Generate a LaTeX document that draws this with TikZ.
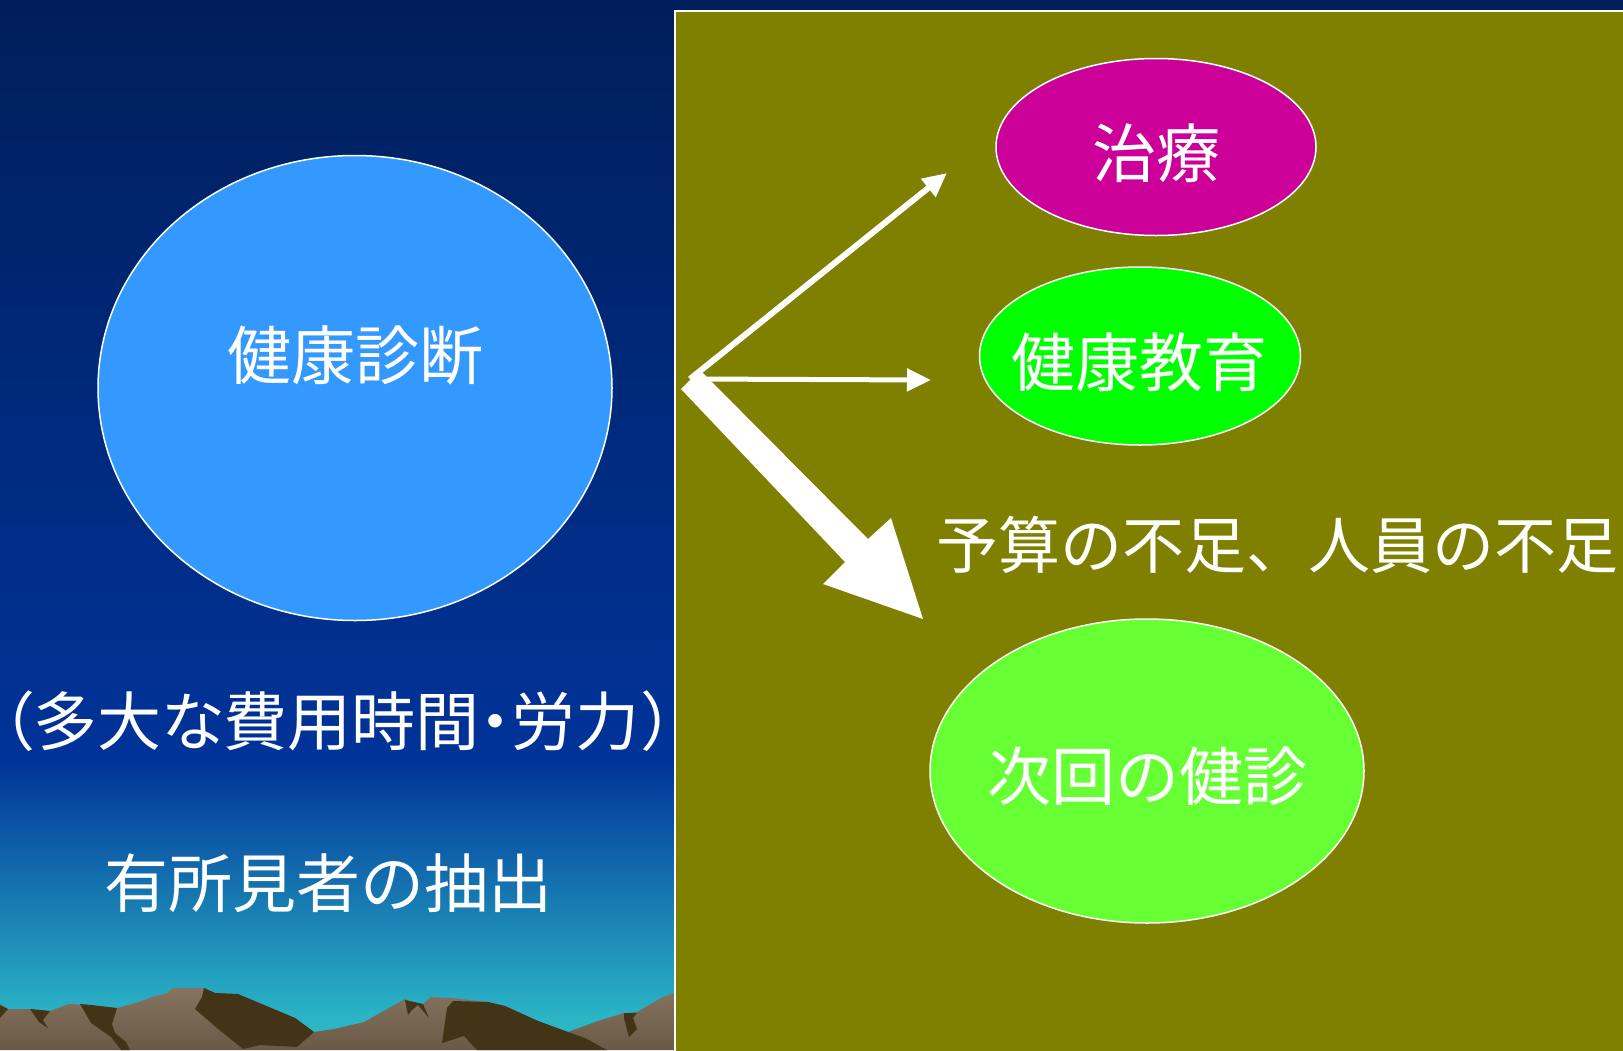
\documentclass[tikz,border=0pt]{standalone}
\usepackage{fontspec}
\newfontfamily\jp{Noto Sans CJK JP}
\newfontfamily\jpprop[RawFeature=+palt]{Noto Sans CJK JP}
\usetikzlibrary{arrows.meta,shapes.geometric}

\definecolor{navytop}{HTML}{001E5A}
\definecolor{navymid}{HTML}{003399}
\definecolor{skylow}{HTML}{2BB6C6}
\definecolor{olivepanel}{HTML}{808000}
\definecolor{checkblue}{HTML}{3399FF}
\definecolor{curemagenta}{HTML}{CC0099}
\definecolor{edugreen}{HTML}{00FF00}
\definecolor{nextgreen}{HTML}{66FF33}
\definecolor{rocklight}{HTML}{857560}
\definecolor{rockdark}{HTML}{6A5A45}
\definecolor{rockshadow}{HTML}{433418}

\begin{document}
\begin{tikzpicture}[x=1pt,y=-1pt,
  bubble/.style={ellipse, draw=white, line width=1.5pt, inner sep=0pt},
  caption/.style={text=white, inner sep=0pt, font=\jp\fontsize{64}{72}\selectfont},
  thinarrow/.style={draw=white, -{Triangle[length=24pt,width=22pt]}},
]
\useasboundingbox (0,0) rectangle (1623,1050);

% sky
\shade[top color=navytop, bottom color=navymid] (0,0) rectangle (1623,760);
\shade[top color=navymid, bottom color=skylow] (0,760) rectangle (675,1020);
\fill[skylow] (0,1020) rectangle (675,1050);

% mountains
\shade[top color=rocklight, bottom color=rockdark]
  (0,1004) -- (8,1009) -- (30,1009) -- (50,1011) -- (69,1004) -- (91,1005)
  -- (117,1008) -- (139,1002) -- (152,997) -- (167,993) -- (173,988)
  -- (204,988) -- (215,993) -- (238,994) -- (295,1018) -- (314,1032)
  -- (334,1029) -- (364,1022) -- (405,999) -- (416,1004) -- (423,1004)
  -- (431,997) -- (451,998) -- (488,1002) -- (505,1006) -- (538,1021)
  -- (568,1032) -- (598,1021) -- (624,1013) -- (637,1012) -- (661,998)
  -- (676,992) -- (676,1050) -- (0,1050) -- cycle;
\fill[rockshadow] (0,1005) -- (8,1009) -- (0,1018) -- cycle;
\fill[rockshadow] (30,1009) -- (50,1011) -- (43,1020) -- (48,1028) -- (39,1022) -- cycle;
\fill[rockshadow] (80,1004) -- (91,1005) -- (117,1008) -- (112,1024) -- (115,1033)
  -- (126,1042) -- (130,1050) -- (121,1050) -- (111,1037) -- (91,1023) -- cycle;
\fill[rockshadow] (204,988) -- (215,993) -- (238,994) -- (295,1018) -- (314,1032)
  -- (297,1047) -- (260,1045) -- (243,1049) -- (217,1028) -- (195,1009) -- (202,997) -- cycle;
\fill[rockshadow] (405,1000) -- (423,1004) -- (429,1018) -- (418,1005) -- (412,1010)
  -- (408,1015) -- cycle;
\fill[rockshadow] (453,1001) -- (488,1002) -- (505,1006) -- (538,1021) -- (568,1032)
  -- (585,1038) -- (607,1050) -- (477,1050) -- (464,1036) -- (442,1043) -- (447,1008) -- cycle;
\fill[rockshadow] (624,1013) -- (637,1013) -- (633,1018) -- (637,1029) -- (629,1037)
  -- (624,1018) -- cycle;

% right-hand panel
\filldraw[fill=olivepanel, draw=white, line width=1.3pt] (675,11) rectangle (1640,1070);

% left side
\node[bubble, fill=checkblue, minimum width=514pt, minimum height=465pt] (checkup) at (355,388) {};
\node[caption] (checkupText) at (355,355) {健康診断};
\node[caption, font=\jpprop\fontsize{64}{72}\selectfont] (costText) at (338,721)
  {（多大な費用時間・労力\hspace{3pt}）};
\node[caption] (findText) at (328,883) {有所見者の抽出};

% right side
\node[bubble, fill=curemagenta, minimum width=320pt, minimum height=177pt] (cure) at (1156,147) {};
\node[caption] (cureText) at (1156,153) {治療};
\node[bubble, fill=edugreen, minimum width=321pt, minimum height=178pt] (edu) at (1140,356) {};
\node[caption] (eduText) at (1139,362) {健康教育};
\node[bubble, fill=nextgreen, minimum width=434pt, minimum height=304pt] (next) at (1147,771) {};
\node[caption] (nextText) at (1147,776) {次回の健診};
\node[caption, font=\jp\fontsize{62}{70}\selectfont] (lackText) at (1277,545) {予算の不足、人員の不足};

% arrows
\coordinate (hub) at (690,379);
\coordinate (cureTip) at (947,173);
\coordinate (eduTip) at (931,380);
\draw[thinarrow, line width=6pt] (hub) -- (cureTip);
\draw[thinarrow, line width=5pt] (hub) -- (eduTip);
\fill[white] (681,389) -- (700,370) -- (868,539) -- (891,518) -- (923,619)
  -- (823,584) -- (845,562) -- cycle;
\end{tikzpicture}
\end{document}
